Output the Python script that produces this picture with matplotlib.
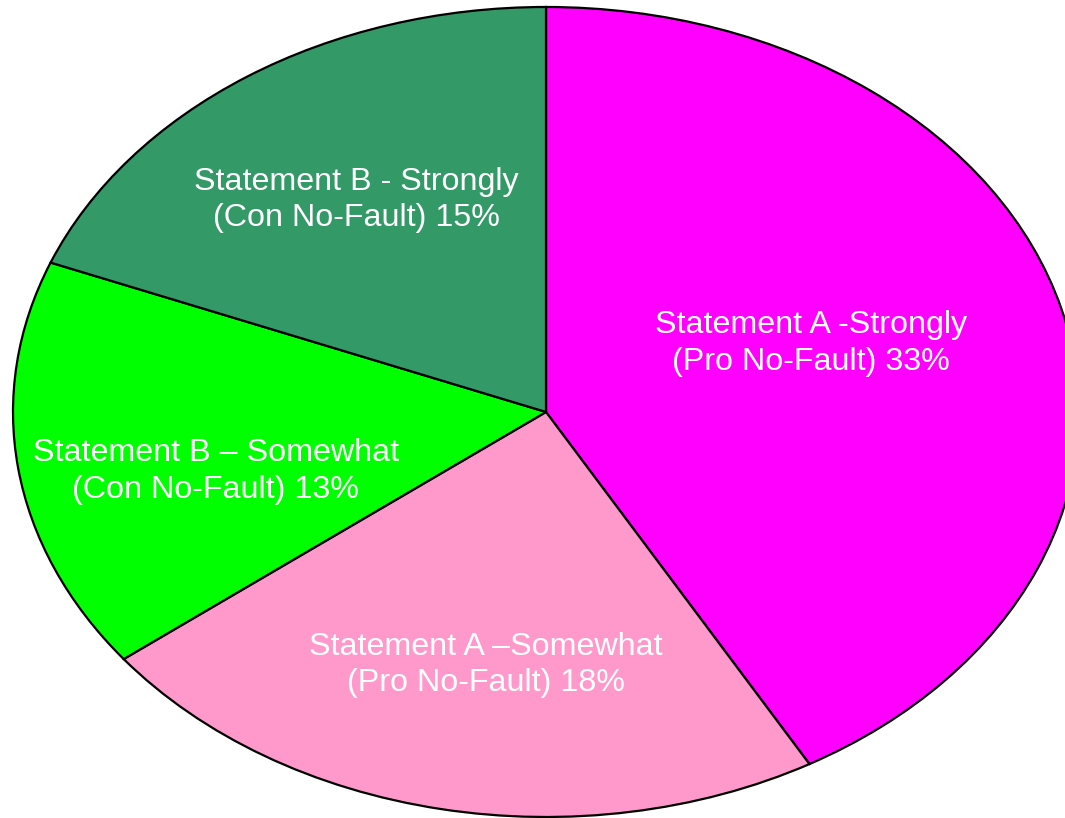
import numpy as np
import matplotlib
matplotlib.use('Agg')
import matplotlib.pyplot as plt

labels = ['Statement A -Strongly\n(Pro No-Fault) 33%',
          'Statement A \u2013Somewhat\n(Pro No-Fault) 18%',
          'Statement B \u2013 Somewhat\n(Con No-Fault) 13%',
          'Statement B - Strongly\n(Con No-Fault) 15%']
values = [33, 18, 13, 15]
colors = ['#ff00ff', '#ff99cc', '#00ff00', '#339966']

# label placement: distance from centre and angle nudge (degrees) per slice
label_dist = [0.525, 0.635, 0.637, 0.632]
label_turn = [4.0, 1.2, 5.4, 0.0]

plt.rcParams['font.family'] = ['Liberation Sans', 'DejaVu Sans']

fig = plt.figure(figsize=(10.65, 8.18), dpi=100)
ax = fig.add_axes([0, 0, 1, 1])

wedges, _ = ax.pie(values, colors=colors, startangle=90, counterclock=False,
                   wedgeprops=dict(edgecolor='black', linewidth=1.6))

for w, lab, d, t in zip(wedges, labels, label_dist, label_turn):
    ang = np.deg2rad((w.theta1 + w.theta2) / 2 + t)
    ax.text(d * np.cos(ang), d * np.sin(ang), lab, color='white', fontsize=23.2,
            ha='center', va='center', linespacing=1.28)

# stretch the pie into the ellipse of the original (right side runs off the page)
ax.set_aspect('auto')
ax.set_xlim(-1.0244, -1.0244 + 1065 / 533)
ax.set_ylim(-1.0025, -1.0025 + 818 / 405)
ax.axis('off')

fig.savefig('out.png', dpi=100)
